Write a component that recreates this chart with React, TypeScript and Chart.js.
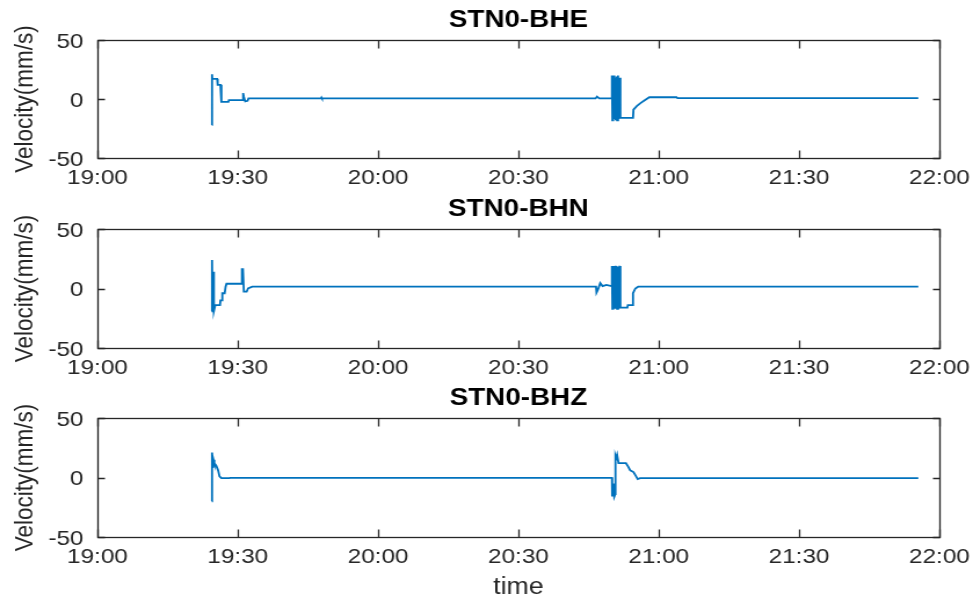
import { useEffect, useRef } from 'react';
import { Chart, registerables } from 'chart.js';

Chart.register(...registerables);

// Time axis: minutes after 19:00
const TICK_MINUTES = [0, 30, 60, 90, 120, 150, 180];
const TICK_LABELS = ['19:00', '19:30', '20:00', '20:30', '21:00', '21:30', '22:00'];
const Y_TICKS = [-50, 0, 50];

// STN0-BHE channel (minutes after 19:00, velocity mm/s)
const BHE_T = [24.45, 24.5, 24.55, 25.6, 25.7, 26.3, 26.5, 28.0, 28.1, 31.0, 31.15, 31.3, 31.6, 32.1, 32.3, 47.8, 47.9, 48.0, 106.5, 106.8, 107.3, 109.9, 110.0, 110.1, 110.2, 110.3, 110.4, 110.5, 110.6, 110.8, 111.0, 111.1, 111.3, 111.4, 111.6, 111.8, 114.5, 114.6, 115.3, 116.1, 117.0, 118.0, 123.8, 124.0, 175.5];
const BHE_V = [-22, 21, 17, 17, 12, 12, -2.5, -2.5, -1, -1, 5, 2, -2, -1.5, 0.5, 0.5, 1.2, 0.5, 0.5, 2, 0.5, 0.5, 20, -18, 19, -18, 20, -17, 18, -18, 19, -18, 20, -17, 18, -16, -16, -9, -6, -3.5, -1, 1.5, 1.5, 0.8, 0.8];

// STN0-BHN channel
const BHN_T = [24.45, 24.5, 24.6, 24.8, 24.9, 25.2, 26.2, 26.3, 26.6, 26.7, 27.2, 27.4, 27.6, 30.8, 30.9, 31.0, 31.1, 31.3, 31.9, 32.2, 33.1, 106.6, 106.7, 107.0, 107.5, 108.0, 108.8, 109.9, 110.0, 110.1, 110.2, 110.3, 110.4, 110.5, 110.6, 110.8, 111.0, 111.1, 111.3, 111.4, 111.6, 111.8, 113.3, 113.4, 114.3, 114.5, 115.0, 115.6, 175.5];
const BHN_V = [-19, 24, -20, 14, -19, -14, -14, -10, -10, -4, -4, 1.5, 4, 4, 17, 4, 17, -2.7, -2.7, 0, 1.5, 1.5, -3.5, -1, 4.5, 2, 3, 2, 19, -17, 19, -17, 18, -17, 19, -17, 19, -17, 18, -17, 19, -16, -16, -14, -14, -4, 0, 1.5, 1.5];

// STN0-BHZ channel
const BHZ_T = [24.45, 24.5, 24.6, 24.7, 24.8, 25.0, 25.4, 25.8, 26.1, 26.5, 28.2, 28.4, 110.0, 110.05, 110.3, 110.5, 110.7, 110.75, 110.9, 111.1, 111.4, 113.0, 113.5, 113.9, 114.6, 115.0, 115.5, 116.0, 175.5];
const BHZ_V = [-20, 21, 15, 8, 15, 12, 10, 6, 1, -0.5, -0.5, -0.3, -0.3, -16, -5, -16, -14, 18, 16, 19, 12, 12, 9, 6, 4.6, 2, -1.3, -0.5, -0.5];

const FONT = "'Liberation Sans', Arial, Helvetica, sans-serif";
const LINE_COLOR = '#0072BD';
const AXIS_COLOR = '#262626';
const CANVAS_W = 839;
const STRETCH = 973 / CANVAS_W;

// Draws the axes box with inward tick marks on all four sides
const boxAxes = {
  id: 'boxAxes',
  afterDatasetsDraw(chart: any) {
    const { ctx, chartArea, scales } = chart;
    const l = Math.round(chartArea.left) + 0.5;
    const r = Math.round(chartArea.right) + 0.5;
    const t = Math.round(chartArea.top) + 0.5;
    const b = Math.round(chartArea.bottom) + 0.5;
    ctx.save();
    ctx.strokeStyle = AXIS_COLOR;
    ctx.lineWidth = 1.3;
    ctx.strokeRect(l, t, r - l, b - t);
    ctx.beginPath();
    scales.x.ticks.forEach((tk: any) => {
      const px = Math.round(scales.x.getPixelForValue(tk.value)) + 0.5;
      ctx.moveTo(px, b); ctx.lineTo(px, b - 8);
      ctx.moveTo(px, t); ctx.lineTo(px, t + 8);
    });
    scales.y.ticks.forEach((tk: any) => {
      const py = Math.round(scales.y.getPixelForValue(tk.value)) + 0.5;
      ctx.moveTo(l, py); ctx.lineTo(l + 6, py);
      ctx.moveTo(r, py); ctx.lineTo(r - 6, py);
    });
    ctx.stroke();
    ctx.restore();
  },
};

type PanelProps = {
  title: string;
  times: number[];
  values: number[];
  top: number;
  height: number;
  axisHeight: number;
  xTitle?: string;
};

function Panel({ title, times, values, top, height, axisHeight, xTitle }: PanelProps) {
  const ref = useRef<HTMLCanvasElement>(null);

  useEffect(() => {
    const chart = new Chart(ref.current as HTMLCanvasElement, {
      type: 'line',
      data: {
        datasets: [
          {
            data: times.map((t, i) => ({ x: t, y: values[i] })),
            borderColor: LINE_COLOR,
            borderWidth: 1.8,
            pointRadius: 0,
            tension: 0,
            fill: false,
          },
        ],
      },
      options: {
        responsive: false,
        animation: false,
        events: [],
        layout: { padding: { left: 0, right: 29, top: 0, bottom: 0 } },
        plugins: {
          legend: { display: false },
          tooltip: { enabled: false },
          title: {
            display: true,
            text: title,
            fullSize: false,
            color: '#000',
            font: { family: FONT, size: 24, weight: 'bold', lineHeight: 1.2 },
            padding: { top: 6, bottom: 5.2 },
          },
        },
        scales: {
          x: {
            type: 'linear',
            min: TICK_MINUTES[0],
            max: TICK_MINUTES[TICK_MINUTES.length - 1],
            afterBuildTicks: (s: any) => {
              s.ticks = TICK_MINUTES.map((v) => ({ value: v }));
            },
            ticks: {
              autoSkip: false,
              maxRotation: 0,
              padding: 8,
              color: AXIS_COLOR,
              font: { family: FONT, size: 21 },
              callback: (v: any) => TICK_LABELS[TICK_MINUTES.indexOf(Number(v))] ?? '',
            },
            grid: { display: false, drawTicks: false },
            border: { display: false },
            title: xTitle
              ? {
                  display: true,
                  text: xTitle,
                  color: AXIS_COLOR,
                  font: { family: FONT, size: 23, lineHeight: 1.0 },
                  padding: { top: 0, bottom: 2.5 },
                }
              : { display: false },
            afterFit: (s: any) => {
              s.height = axisHeight;
              s.paddingLeft = 0;
              s.paddingRight = 0;
            },
          },
          y: {
            type: 'linear',
            min: Y_TICKS[0],
            max: Y_TICKS[Y_TICKS.length - 1],
            afterBuildTicks: (s: any) => {
              s.ticks = Y_TICKS.map((v) => ({ value: v }));
            },
            ticks: {
              padding: 12,
              labelOffset: 2,
              color: AXIS_COLOR,
              font: { family: FONT, size: 21 },
              callback: (v: any) => String(v),
            },
            grid: { display: false, drawTicks: false },
            border: { display: false },
            title: {
              display: true,
              text: 'Velocity(mm/s)',
              color: AXIS_COLOR,
              font: { family: FONT, size: 22.5, lineHeight: 1.2 },
              padding: { top: 8, bottom: 0 },
            },
            afterFit: (s: any) => {
              s.width = 84;
            },
          },
        },
      } as any,
      plugins: [boxAxes],
    });
    return () => chart.destroy();
  }, []);

  return (
    <canvas
      ref={ref}
      width={CANVAS_W}
      height={height}
      style={{
        position: 'absolute',
        left: 0,
        top,
        transform: `scaleX(${STRETCH})`,
        transformOrigin: '0 0',
      }}
    />
  );
}

export default function App() {
  return (
    <div
      style={{
        position: 'fixed',
        left: 0,
        top: 0,
        width: 973,
        height: 599,
        overflow: 'hidden',
        background: '#fff',
      }}
    >
      <Panel title="STN0-BHE" times={BHE_T} values={BHE_V} top={0} height={189} axisHeight={31} />
      <Panel title="STN0-BHN" times={BHN_T} values={BHN_V} top={189} height={189} axisHeight={30} />
      <Panel title="STN0-BHZ" times={BHZ_T} values={BHZ_V} top={378} height={224} axisHeight={65} xTitle="time" />
    </div>
  );
}
